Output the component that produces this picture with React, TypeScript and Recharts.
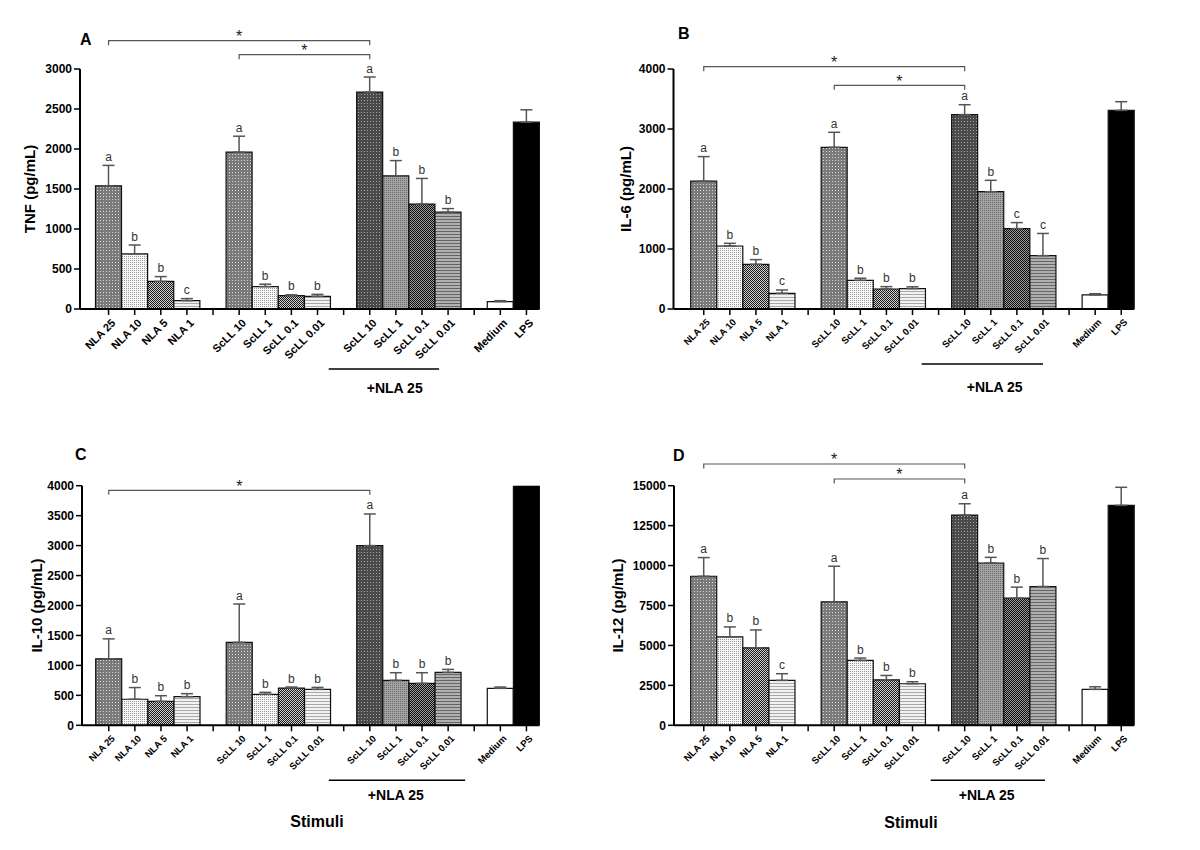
import React from 'react';
import { Bar, BarChart, Cell, ErrorBar, LabelList, ReferenceLine, XAxis, YAxis } from 'recharts';

const FONT = 'Arial, "Liberation Sans", sans-serif';

// 17 slots: 4 NLA, gap, 4 ScLL, gap, 4 ScLL + NLA 25, gap, controls
const categories = [
  'NLA 25', 'NLA 10', 'NLA 5', 'NLA 1', '',
  'ScLL 10', 'ScLL 1', 'ScLL 0.1', 'ScLL 0.01', '',
  'ScLL 10', 'ScLL 1', 'ScLL 0.1', 'ScLL 0.01', '',
  'Medium', 'LPS',
];

const tnfMean = [1540, 690, 345, 105, null, 1960, 280, 167, 158, null, 2710, 1665, 1312, 1210, null, 92, 2335];
const tnfSem = [255, 110, 60, 25, null, 200, 30, 10, 25, null, 190, 190, 320, 45, null, 12, 155];
const tnfSig = ['a', 'b', 'b', 'c', '', 'a', 'b', 'b', 'b', '', 'a', 'b', 'b', 'b', '', '', ''];
const tnfTicks = [0, 500, 1000, 1500, 2000, 2500, 3000];

const il6Mean = [2130, 1050, 745, 262, null, 2695, 478, 333, 340, null, 3240, 1955, 1340, 889, null, 235, 3310];
const il6Sem = [410, 45, 78, 55, null, 250, 35, 40, 30, null, 165, 190, 100, 370, null, 20, 145];
const il6Sig = ['a', 'b', 'b', 'c', '', 'a', 'b', 'b', 'b', '', 'a', 'b', 'c', 'c', '', '', ''];
const il6Ticks = [0, 1000, 2000, 3000, 4000];

const il10Mean = [1110, 435, 400, 478, null, 1385, 517, 622, 600, null, 3000, 750, 700, 883, null, 617, 4000];
const il10Sem = [333, 195, 94, 50, null, 640, 33, 17, 33, null, 528, 128, 178, 50, null, 22, null];
const il10Sig = ['a', 'b', 'b', 'b', '', 'a', 'b', 'b', 'b', '', 'a', 'b', 'b', 'b', '', '', ''];
const il10Ticks = [0, 500, 1000, 1500, 2000, 2500, 3000, 3500, 4000];

const il12Mean = [9330, 5540, 4850, 2810, null, 7730, 4060, 2850, 2600, null, 13160, 10160, 7960, 8690, null, 2250, 13770];
const il12Sem = [1170, 620, 1120, 420, null, 2230, 150, 270, 125, null, 710, 355, 690, 1750, null, 160, 1130];
const il12Sig = ['a', 'b', 'b', 'c', '', 'a', 'b', 'b', 'b', '', 'a', 'b', 'b', 'b', '', '', ''];
const il12Ticks = [0, 2500, 5000, 7500, 10000, 12500, 15000];

// compared slots for the * brackets
const tnfPairs = [[0, 10], [5, 10]];
const il6Pairs = [[0, 10], [5, 10]];
const il10Pairs = [[0, 10]];
const il12Pairs = [[0, 10], [5, 10]];

// fill per slot (pattern ids or plain colours)
const slotFills = ['dm', 'fl', 'cd', 'hl', '', 'dm', 'fl', 'cd', 'hl', '', 'dd', 'fm', 'cx', 'hd', '', '#ffffff', '#000000'];

const Patterns = ({ k }: { k: string }) => (
  <defs>
    <pattern id={`dm-${k}`} width={3} height={3} patternUnits="userSpaceOnUse">
      <rect width={3} height={3} fill="#7a7a7a" />
      <rect x={1} y={1} width={1} height={1} fill="#d8d8d8" />
    </pattern>
    <pattern id={`fl-${k}`} width={2} height={2} patternUnits="userSpaceOnUse">
      <rect width={2} height={2} fill="#f7f7f7" />
      <rect width={1} height={1} fill="#9a9a9a" />
    </pattern>
    <pattern id={`cd-${k}`} width={2} height={2} patternUnits="userSpaceOnUse">
      <rect width={2} height={2} fill="#d0d0d0" />
      <rect width={1} height={1} fill="#1a1a1a" />
      <rect x={1} y={1} width={1} height={1} fill="#1a1a1a" />
    </pattern>
    <pattern id={`hl-${k}`} width={3} height={3} patternUnits="userSpaceOnUse">
      <rect width={3} height={3} fill="#f2f2f2" />
      <rect width={3} height={1} fill="#a8a8a8" />
    </pattern>
    <pattern id={`dd-${k}`} width={3} height={3} patternUnits="userSpaceOnUse">
      <rect width={3} height={3} fill="#4a4a4a" />
      <rect x={1} y={1} width={1} height={1} fill="#a6a6a6" />
    </pattern>
    <pattern id={`fm-${k}`} width={2} height={2} patternUnits="userSpaceOnUse">
      <rect width={2} height={2} fill="#a4a4a4" />
      <rect width={1} height={1} fill="#6a6a6a" />
    </pattern>
    <pattern id={`cx-${k}`} width={2} height={2} patternUnits="userSpaceOnUse">
      <rect width={2} height={2} fill="#9a9a9a" />
      <rect width={1} height={1} fill="#0e0e0e" />
      <rect x={1} y={1} width={1} height={1} fill="#0e0e0e" />
    </pattern>
    <pattern id={`hd-${k}`} width={3} height={3} patternUnits="userSpaceOnUse">
      <rect width={3} height={3} fill="#b0b0b0" />
      <rect width={3} height={1} fill="#666666" />
    </pattern>
  </defs>
);

const XTick = (props: any) => {
  const { x, y, payload, fontSize } = props;
  const label = categories[Number(payload.value)];
  if (!label) return null;
  return (
    <g transform={`translate(${x + 2},${y + 1}) rotate(-45)`}>
      <text textAnchor="end" dy="0.72em" fontSize={fontSize} fontWeight={700} fontFamily={FONT} fill="#000">
        {label}
      </text>
    </g>
  );
};

// label value is "letter|sem|mean" so the letter can sit above the error cap
const sigKey = (d: any) => `${d.sig}|${d.sem ?? 0}|${d.mean ?? 0}`;

const SigLabel = (props: any) => {
  const box = props.viewBox ?? props;
  const { x, y, width, height } = box;
  const [sig, sem, mean] = String(props.value ?? '').split('|');
  if (!sig) return null;
  const m = Number(mean);
  const ppu = m ? height / m : 0;
  return (
    <text x={x + width / 2} y={y - Number(sem) * ppu - 4.5} textAnchor="middle" fontSize={12} fontFamily={FONT} fill="#333">
      {sig}
    </text>
  );
};

const bracketShape = (props: any) => {
  const { x1, y1, x2 } = props;
  return (
    <g>
      <path d={`M${x1},${y1 + 4.5}V${y1}H${x2}V${y1 + 4.5}`} fill="none" stroke="#555" strokeWidth={1.2} />
      <text x={(x1 + x2) / 2} y={y1 + 1.5} textAnchor="middle" fontSize={16} fontFamily={FONT} fill="#222">*</text>
    </g>
  );
};

const makeGroupShape = (g: any) => (props: any) => {
  const { x1, y1, x2 } = props;
  return (
    <g>
      <line x1={x1 + g.lx1} x2={x2 + g.lx2} y1={y1 + g.ly} y2={y1 + g.ly} stroke="#000" strokeWidth={1.5} />
      <text x={x1 + g.tx} y={y1 + g.ty} textAnchor="middle" fontSize={14} fontWeight={700} fontFamily={FONT} fill="#000">
        +NLA 25
      </text>
    </g>
  );
};

interface PanelProps {
  k: string;
  left: number;
  top: number;
  axisX: number;
  plotRight: number;
  plotTop: number;
  plotBottom: number;
  pad: number;
  tickFont: number;
  yLabel: string;
  yLabelX: number;
  bracketLevels: number[];
  group: any;
  means: (number | null)[];
  errs: (number | null)[];
  sigs: string[];
  ticks: number[];
  pairs: number[][];
}

const XH = 90;
const YW = 70;

const Panel = (p: PanelProps) => {
  const data = categories.map((label, i) => ({
    slot: i,
    label,
    mean: p.means[i],
    sem: p.errs[i],
    err: p.errs[i] == null ? null : [0, p.errs[i]],
    sig: p.sigs[i],
  }));
  const yMax = p.ticks[p.ticks.length - 1];
  const marginLeft = p.axisX - YW;
  return (
    <div style={{ position: 'absolute', left: p.left, top: p.top }}>
      <BarChart
        width={600}
        height={425}
        data={data}
        margin={{ top: p.plotTop, right: 600 - p.plotRight, left: marginLeft, bottom: 425 - p.plotBottom - XH }}
        barCategoryGap={0}
        barGap={0}
      >
        <Patterns k={p.k} />
        <XAxis
          dataKey="slot"
          type="category"
          interval={0}
          height={XH}
          padding={{ left: p.pad, right: 0 }}
          tick={<XTick fontSize={p.tickFont} />}
          tickSize={6}
          tickMargin={2}
          axisLine={{ stroke: '#000', strokeWidth: 2 }}
          tickLine={{ stroke: '#000', strokeWidth: 1.5 }}
        />
        <YAxis
          width={YW}
          type="number"
          domain={[0, yMax]}
          ticks={p.ticks}
          allowDataOverflow
          tickSize={6}
          tickMargin={2}
          axisLine={{ stroke: '#000', strokeWidth: 2 }}
          tickLine={{ stroke: '#000', strokeWidth: 1.5 }}
          tick={{ fontSize: 12, fontWeight: 700, fill: '#000', fontFamily: FONT }}
          label={{
            value: p.yLabel,
            angle: -90,
            position: 'insideLeft',
            offset: p.yLabelX - marginLeft,
            style: { textAnchor: 'middle', fontSize: 15, fontWeight: 700, fill: '#000', fontFamily: FONT },
          }}
        />
        <Bar dataKey="mean" isAnimationActive={false} stroke="#111" strokeWidth={1.2}>
          {data.map((d, i) => {
            const f = slotFills[i];
            return <Cell key={i} fill={f.startsWith('#') ? f : `url(#${f}-${p.k})`} />;
          })}
          <ErrorBar dataKey="err" direction="y" width={6} stroke="#555" strokeWidth={1.5} isAnimationActive={false} />
          <LabelList dataKey={sigKey} content={<SigLabel />} />
        </Bar>
        {p.pairs.map((pair, i) => (
          <ReferenceLine
            key={`br-${i}`}
            segment={[{ x: pair[0], y: p.bracketLevels[i] }, { x: pair[1], y: p.bracketLevels[i] }]}
            ifOverflow="visible"
            shape={bracketShape}
          />
        ))}
        <ReferenceLine
          segment={[{ x: 10, y: 0 }, { x: 13, y: 0 }]}
          ifOverflow="visible"
          shape={makeGroupShape(p.group)}
        />
      </BarChart>
    </div>
  );
};

export default function App() {
  return (
    <div style={{ position: 'absolute', left: 0, top: 0, width: 1200, height: 850, background: '#fff' }}>
      <Panel
        k="a" left={0} top={0} axisX={80} plotRight={539.5} plotTop={69} plotBottom={309} pad={15.5}
        tickFont={11} yLabel="TNF (pg/mL)" yLabelX={30} bracketLevels={[3354, 3179]}
        group={{ lx1: -41, lx2: -9, ly: 60, tx: 25, ty: 84 }}
        means={tnfMean} errs={tnfSem} sigs={tnfSig} ticks={tnfTicks} pairs={tnfPairs}
      />
      <Panel
        k="b" left={600} top={0} axisX={73.5} plotRight={534.3} plotTop={69} plotBottom={309} pad={17.2}
        tickFont={9.5} yLabel="IL-6 (pg/mL)" yLabelX={26} bracketLevels={[4038, 3728]}
        group={{ lx1: -43, lx2: 0, ly: 55, tx: 30, ty: 83 }}
        means={il6Mean} errs={il6Sem} sigs={il6Sig} ticks={il6Ticks} pairs={il6Pairs}
      />
      <Panel
        k="c" left={0} top={425} axisX={82} plotRight={539.5} plotTop={60.7} plotBottom={300.3} pad={13.7}
        tickFont={9.5} yLabel="IL-10 (pg/mL)" yLabelX={37} bracketLevels={[3922]}
        group={{ lx1: -41, lx2: 17, ly: 55, tx: 26, ty: 75 }}
        means={il10Mean} errs={il10Sem} sigs={il10Sig} ticks={il10Ticks} pairs={il10Pairs}
      />
      <Panel
        k="d" left={600} top={425} axisX={74} plotRight={534.3} plotTop={60.7} plotBottom={300.3} pad={16.7}
        tickFont={9.5} yLabel="IL-12 (pg/mL)" yLabelX={18} bracketLevels={[16359, 15420]}
        group={{ lx1: -34, lx2: 2, ly: 55, tx: 22, ty: 75 }}
        means={il12Mean} errs={il12Sem} sigs={il12Sig} ticks={il12Ticks} pairs={il12Pairs}
      />
      <svg width={1200} height={850} style={{ position: 'absolute', left: 0, top: 0, pointerEvents: 'none' }}>
        <g fontFamily={FONT} fontWeight={700} fill="#000">
          <text x={80} y={45} fontSize={16}>A</text>
          <text x={678} y={38.5} fontSize={16}>B</text>
          <text x={75} y={460} fontSize={16}>C</text>
          <text x={673} y={461} fontSize={16}>D</text>
          <text x={317} y={827} fontSize={16} textAnchor="middle">Stimuli</text>
          <text x={911} y={827.5} fontSize={16} textAnchor="middle">Stimuli</text>
        </g>
      </svg>
    </div>
  );
}
